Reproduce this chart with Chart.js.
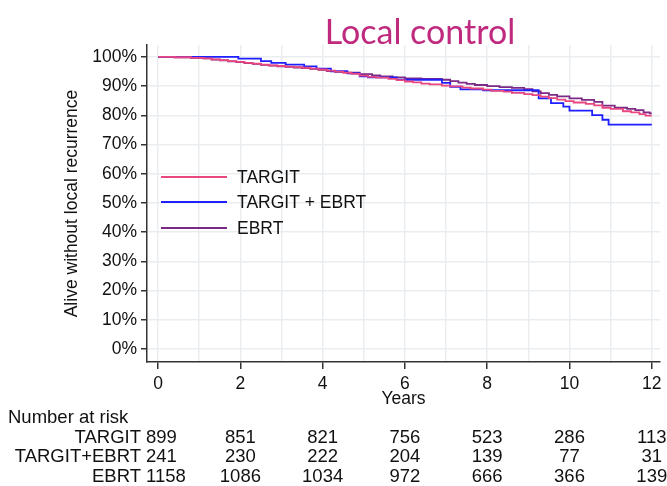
<!DOCTYPE html>
<html>
<head>
<meta charset="utf-8">
<script src="https://cdn.jsdelivr.net/npm/chart.js@4.4.0/dist/chart.umd.min.js"></script>
<style>
  html, body { margin: 0; padding: 0; background: #fff; }
  #wrap { width: 667px; height: 486px; }
</style>
</head>
<body>
<div id="wrap"><canvas id="km" width="667" height="486"></canvas></div>
<script>
const years = [0, 1, 2, 3, 4, 5, 6, 7, 8, 9, 10, 11, 12];
const yTicks = [0, 10, 20, 30, 40, 50, 60, 70, 80, 90, 100];

const groups = ['TARGIT', 'TARGIT + EBRT', 'EBRT'];
const riskLabels = ['TARGIT', 'TARGIT+EBRT', 'EBRT'];
const riskYears = [0, 2, 4, 6, 8, 10, 12];
const riskTargit = [899, 851, 821, 756, 523, 286, 113];
const riskTargitEbrt = [241, 230, 222, 204, 139, 77, 31];
const riskEbrt = [1158, 1086, 1034, 972, 666, 366, 139];

// KM step points (years, % alive without local recurrence)
const targitTimes = [0, 0.4, 0.8, 1.1, 1.3, 1.5, 1.7, 1.9, 2.1, 2.3, 2.5, 2.7, 2.9, 3.1, 3.3, 3.5, 3.7, 3.9, 4.1, 4.3, 4.5, 4.7, 4.9, 5.1, 5.3, 5.6, 5.8, 6.0, 6.2, 6.4, 6.6, 6.9, 7.1, 7.4, 7.6, 7.9, 8.1, 8.4, 8.6, 8.9, 9.1, 9.3, 9.5, 9.7, 9.9, 10.1, 10.4, 10.6, 10.8, 11.0, 11.3, 11.5, 11.7, 11.85, 12.0];
const targitSurv = [100, 99.9, 99.7, 99.5, 99.2, 98.9, 98.6, 98.3, 98.0, 97.7, 97.4, 97.1, 96.9, 96.7, 96.5, 96.3, 96.0, 95.7, 95.3, 95.0, 94.6, 94.2, 93.6, 93.2, 92.9, 92.5, 92.1, 91.6, 91.3, 90.9, 90.6, 90.2, 89.9, 89.5, 89.2, 88.8, 88.4, 88.1, 87.7, 87.3, 86.9, 86.4, 85.9, 85.4, 84.9, 84.4, 83.9, 83.4, 82.6, 82.2, 81.4, 81.0, 80.4, 79.9, 79.9];

const tebrtTimes = [0, 1.95, 2.5, 2.75, 3.1, 3.55, 3.85, 4.2, 4.6, 4.9, 5.1, 5.8, 6.9, 7.1, 7.35, 7.9, 9.25, 9.55, 9.85, 10.0, 10.55, 10.8, 10.95, 12.0];
const tebrtSurv = [100, 99.4, 98.6, 98.0, 97.4, 96.8, 96.0, 95.1, 94.4, 93.4, 93.0, 92.2, 91.1, 89.8, 88.9, 88.6, 85.8, 84.2, 83.0, 81.6, 80.1, 78.5, 76.8, 76.8];

const ebrtTimes = [0, 0.4, 0.8, 1.1, 1.3, 1.5, 1.7, 1.9, 2.1, 2.3, 2.5, 2.7, 2.9, 3.1, 3.3, 3.5, 3.7, 3.9, 4.1, 4.3, 4.6, 4.9, 5.2, 5.4, 5.7, 6.0, 6.4, 6.9, 7.1, 7.3, 7.5, 7.7, 8.0, 8.3, 8.6, 8.9, 9.1, 9.3, 9.5, 9.7, 10.0, 10.3, 10.6, 10.8, 11.1, 11.4, 11.6, 11.8, 11.95, 12.0];
const ebrtSurv = [100, 99.9, 99.7, 99.5, 99.1, 98.8, 98.5, 98.2, 97.9, 97.6, 97.3, 97.0, 96.8, 96.6, 96.4, 96.2, 95.9, 95.6, 95.2, 94.9, 94.6, 94.1, 93.7, 93.3, 93.0, 92.7, 92.5, 92.2, 91.7, 91.2, 90.8, 90.4, 90.0, 89.7, 89.4, 89.0, 88.2, 87.6, 87.0, 86.5, 85.8, 85.3, 84.6, 83.3, 82.6, 82.2, 81.8, 81.0, 80.7, 80.7];

const colors = ['#e8477f', '#1f1fff', '#7b2a86'];
const FONT = 'Liberation Sans, Arial, sans-serif';
const FSIZE = 17.5;
const TSIZE = 18.5;
const gridColor = '#e9edf0';
const axisColor = '#333';

const pts = (t, s) => t.map((x, i) => ({ x: x, y: s[i] }));

const overlay = {
  id: 'overlay',
  afterDraw(chart) {
    const { ctx, scales: { x } } = chart;
    ctx.save();
    // title
    ctx.fillStyle = '#bf2a7f';
    ctx.font = '34px Lato, sans-serif';
    ctx.textAlign = 'center';
    ctx.textBaseline = 'alphabetic';
    ctx.fillText('Local control', 420, 44);

    // legend inside plot
    ctx.font = FSIZE + 'px ' + FONT;
    ctx.textBaseline = 'middle';
    ctx.textAlign = 'left';
    const ly = [177, 202, 228];
    chart.data.datasets.forEach((ds, i) => {
      ctx.strokeStyle = ds.borderColor;
      ctx.lineWidth = 1.8;
      ctx.beginPath();
      ctx.moveTo(161, ly[i]);
      ctx.lineTo(227, ly[i]);
      ctx.stroke();
      ctx.fillStyle = '#111';
      ctx.fillText(ds.label, 237, ly[i] + 1);
    });

    // number at risk table
    ctx.font = TSIZE + 'px ' + FONT;
    ctx.fillStyle = '#111';
    ctx.fillText('Number at risk', 8, 418);
    const rows = [riskTargit, riskTargitEbrt, riskEbrt];
    const ry = [438, 457, 477];
    rows.forEach((row, r) => {
      ctx.textAlign = 'right';
      ctx.fillText(riskLabels[r], 141, ry[r]);
      row.forEach((n, i) => {
        if (i === 0) {
          ctx.textAlign = 'left';
          ctx.fillText(String(n), 146, ry[r]);
        } else {
          ctx.textAlign = 'center';
          ctx.fillText(String(n), x.getPixelForValue(riskYears[i]), ry[r]);
        }
      });
    });
    ctx.restore();
  }
};

new Chart(document.getElementById('km'), {
  type: 'line',
  data: {
    datasets: [
      { label: groups[0], data: pts(targitTimes, targitSurv), borderColor: colors[0] },
      { label: groups[1], data: pts(tebrtTimes, tebrtSurv), borderColor: colors[1] },
      { label: groups[2], data: pts(ebrtTimes, ebrtSurv), borderColor: colors[2] }
    ].map(d => Object.assign(d, { stepped: true, pointRadius: 0, borderWidth: 1.8, fill: false, tension: 0 }))
  },
  options: {
    responsive: false,
    animation: false,
    devicePixelRatio: 1,
    events: [],
    layout: { padding: { left: 0, right: 7, top: 45, bottom: 76 } },
    plugins: { legend: { display: false }, title: { display: false }, tooltip: { enabled: false } },
    scales: {
      x: {
        type: 'linear', min: -0.27, max: 12.2,
        afterBuildTicks: s => { s.ticks = years.map(v => ({ value: v })); },
        afterFit: s => { s.height = 48; },
        grid: {
          color: gridColor, lineWidth: 1.5, tickLength: 7, tickWidth: 1.5,
          tickColor: c => (c.tick && c.tick.value % 2 === 0) ? axisColor : 'rgba(0,0,0,0)'
        },
        border: { color: axisColor, width: 1.5 },
        ticks: {
          autoSkip: false, maxRotation: 0, padding: 5, color: '#111',
          font: { family: FONT, size: FSIZE },
          callback: v => v % 2 === 0 ? String(v) : ''
        },
        title: { display: true, text: 'Years', color: '#111', font: { family: FONT, size: FSIZE }, padding: { top: 0, bottom: 0 } }
      },
      y: {
        min: -4.5, max: 104.1,
        afterBuildTicks: s => { s.ticks = yTicks.map(v => ({ value: v })); },
        afterFit: s => { s.width = 147; },
        grid: { color: gridColor, lineWidth: 1.5, tickLength: 6, tickWidth: 1.5, tickColor: axisColor },
        border: { color: axisColor, width: 1.5 },
        ticks: { padding: 4, color: '#111', font: { family: FONT, size: FSIZE }, callback: v => v + '%' },
        title: { display: true, text: 'Alive without local recurrence', color: '#111', font: { family: FONT, size: FSIZE }, padding: { top: 62, bottom: 0 } }
      }
    }
  },
  plugins: [overlay]
});
</script>
</body>
</html>
